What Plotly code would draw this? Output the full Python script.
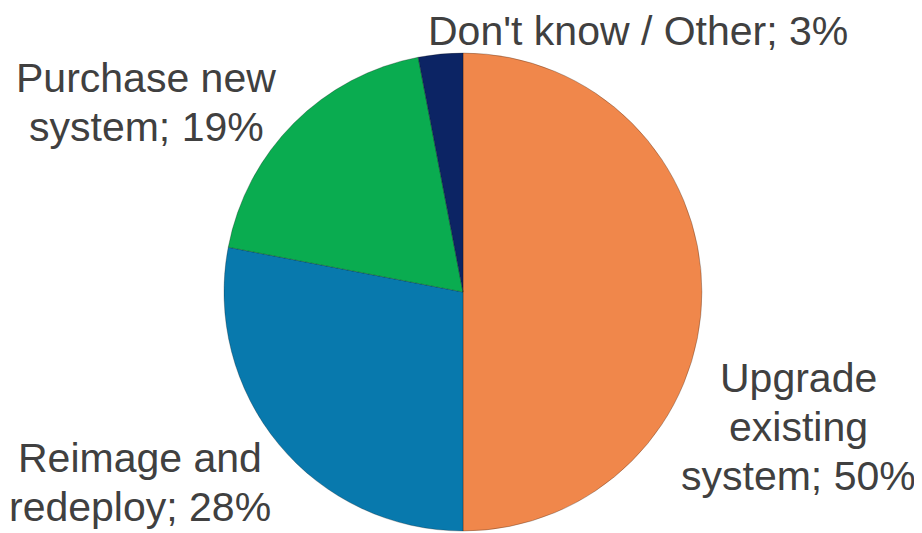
import plotly.graph_objects as go

labels = ["Upgrade existing system", "Reimage and redeploy", "Purchase new system", "Don't know / Other"]
values = [50, 28, 19, 3]
label_lines = [["Upgrade", "existing", "system; 50%"],
               ["Reimage and", "redeploy; 28%"],
               ["Purchase new", "system; 19%"],
               ["Don't know / Other; 3%"]]
colors = ["#F0874B", "#0879AD", "#0AAC50", "#0C2464"]

W, H = 922, 533
OFF = 8  # page body margin offset
# label block: center x and first-line center y (screen pixels), line pitch
label_pos = [(798, 378), (140, 458), (146, 78), (638, 31)]
PITCH = 49

fig = go.Figure(go.Pie(
    labels=labels, values=values, sort=False, direction="clockwise", rotation=0,
    marker=dict(colors=colors, line=dict(color="rgba(0,0,0,0.25)", width=1)),
    textinfo="none", hoverinfo="label+percent", showlegend=False,
    domain=dict(x=[(223 - OFF) / W, (703 - OFF) / W],
                y=[1 - (531 - OFF) / H, 1 - (53 - OFF) / H]),
))

for lines, (px, py) in zip(label_lines, label_pos):
    for i, line in enumerate(lines):
        fig.add_annotation(x=(px - OFF) / W, y=1 - (py + i * PITCH - OFF) / H,
                           xref="paper", yref="paper", text=line, showarrow=False,
                           xanchor="center", yanchor="middle", align="center",
                           font=dict(family="Liberation Sans, Arial", size=41, color="#404040"))

fig.update_layout(width=W, height=H, margin=dict(l=0, r=0, t=0, b=0),
                  paper_bgcolor="white", plot_bgcolor="white")
fig.write_html("out.html")
